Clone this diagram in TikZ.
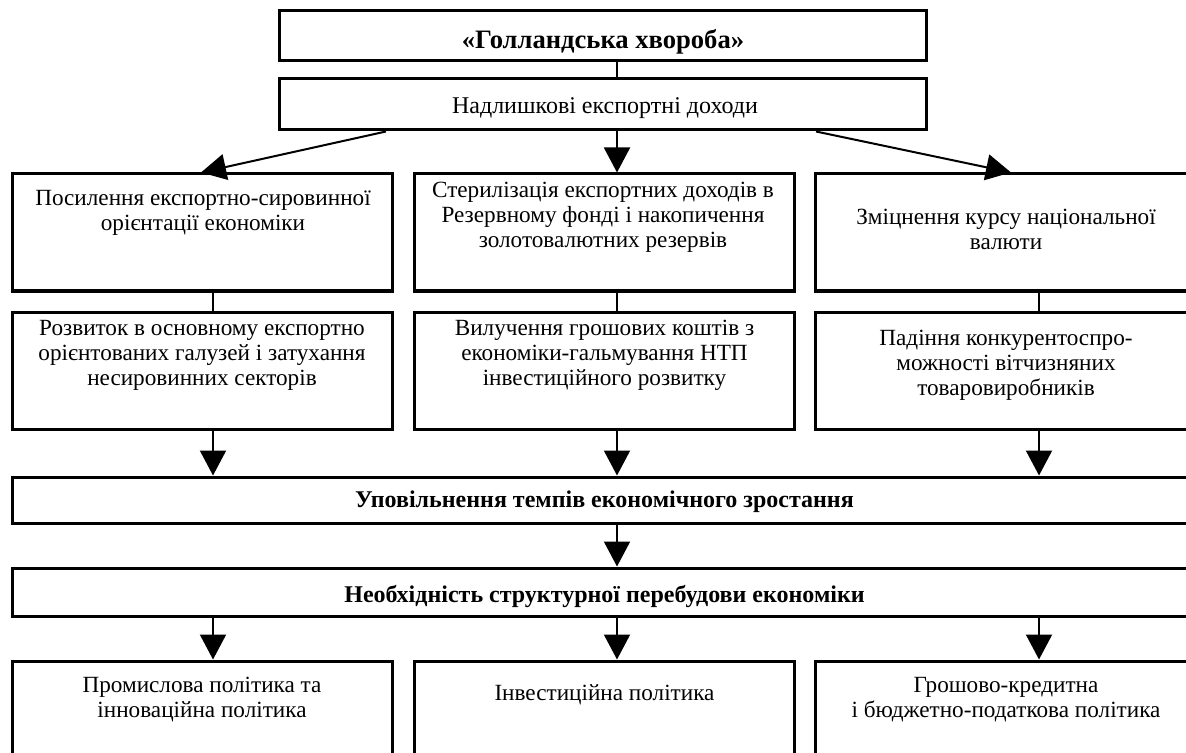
\documentclass[tikz,border=0pt]{standalone}
\usepackage{fontspec}
\setmainfont{Liberation Serif}
\usetikzlibrary{positioning, arrows.meta}

\tikzset{
	box/.style={draw, line width=1.5pt, rectangle, inner sep=0pt},
	txt/.style={align=center, inner sep=0pt, font=\fontsize{11.6}{12.5}\selectfont},
	btxt/.style={align=center, inner sep=0pt, font=\fontsize{12}{13}\selectfont\bfseries},
	link/.style={line width=1pt},
	arr/.style={line width=1pt, -{Triangle[width=13pt,length=12.5pt]}}
}

\begin{document}
\begin{tikzpicture}[x=0.5pt, y=-0.5pt]
	\clip (0,0) rectangle (1186,753);
	\pgfmathsetmacro{\colw}{190}
	\pgfmathsetmacro{\rowh}{58.5}
	\coordinate (colA) at (213,0);
	\coordinate (colB) at (617,0);
	\coordinate (colC) at (1039,0);
	
	%% top
	\node[box, minimum width=323.5pt, minimum height=25pt] (dis) at (602.5,36) {};
	\node[btxt, font=\fontsize{13.3}{14}\selectfont\bfseries] (distxt) at (603,42) {«Голландська хвороба»};
	\node[box, minimum width=323.5pt, minimum height=25.5pt] (inc) at (602.5,104.5) {};
	\node[txt, font=\fontsize{12}{13}\selectfont] (inctxt) at (605,108) {Надлишкові експортні доходи};
	
	%% first row
	\node[box, minimum width=\colw pt, minimum height=\rowh pt] (raw) at (202,232.5) {};
	\node[txt] (rawtxt) at (203,213) {Посилення експортно-сировинної\\орієнтації економіки};
	\node[box, minimum width=\colw pt, minimum height=\rowh pt] (ster) at (604.5,232.5) {};
	\node[txt] (stertxt) at (603,217) {Стерилізація експортних доходів в\\Резервному фонді і накопичення\\золотовалютних резервів};
	\node[box, minimum width=191pt, minimum height=\rowh pt] (cur) at (1006,232.5) {};
	\node[txt] (curtxt) at (1006,229) {Зміцнення курсу національної\\валюти};
	
	%% second row
	\node[box, minimum width=\colw pt, minimum height=\rowh pt] (grow) at (202,370.5) {};
	\node[txt] (growtxt) at (202,355) {Розвиток в основному експортно\\орієнтованих галузей і затухання\\несировинних секторів};
	\node[box, minimum width=\colw pt, minimum height=\rowh pt] (wd) at (604.5,370.5) {};
	\node[txt] (wdtxt) at (604.5,355) {Вилучення грошових коштів з\\економіки-гальмування НТП\\інвестиційного розвитку};
	\node[box, minimum width=191pt, minimum height=\rowh pt] (comp) at (1006,370.5) {};
	\node[txt] (comptxt) at (1006,365) {Падіння конкурентоспро-\\можності вітчизняних\\товаровиробників};
	
	%% wide boxes
	\node[box, minimum width=592.5pt, minimum height=23pt] (slow) at (604.5,500) {};
	\node[btxt] (slowtxt) at (604.5,502) {Уповільнення темпів економічного зростання};
	\node[box, minimum width=592.5pt, minimum height=24pt] (need) at (604.5,592) {};
	\node[btxt] (needtxt) at (604.5,596) {Необхідність структурної перебудови економіки};
	
	%% bottom row
	\node[box, minimum width=\colw pt, minimum height=64pt] (ind) at (202,725) {};
	\node[txt] (indtxt) at (202,699.5) {Промислова політика та\\інноваційна політика};
	\node[box, minimum width=\colw pt, minimum height=64pt] (inv) at (604.5,725) {};
	\node[txt] (invtxt) at (604.5,695) {Інвестиційна політика};
	\node[box, minimum width=191pt, minimum height=64pt] (fis) at (1006,725) {};
	\node[txt] (fistxt) at (1006,699.5) {Грошово-кредитна\\і бюджетно-податкова політика};
	
	%% connectors
	\draw[link] (dis.south -| colB) -- (inc.north -| colB);
	\draw[arr] ([xshift=-108.25pt]inc.south) -- ([xshift=-0.5pt]raw.north);
	\draw[arr] (inc.south -| colB) -- (ster.north -| colB);
	\draw[arr] ([xshift=106.75pt]inc.south) -- ([xshift=2.5pt]cur.north);
	
	\draw[link] (raw.south -| colA) -- (grow.north -| colA);
	\draw[link] (ster.south -| colB) -- (wd.north -| colB);
	\draw[link] (cur.south -| colC) -- (comp.north -| colC);
	
	\draw[arr] (grow.south -| colA) -- (slow.north -| colA);
	\draw[arr] (wd.south -| colB) -- (slow.north -| colB);
	\draw[arr] (comp.south -| colC) -- (slow.north -| colC);
	
	\draw[arr] (slow.south -| colB) -- (need.north -| colB);
	
	\draw[arr] (need.south -| colA) -- (ind.north -| colA);
	\draw[arr] (need.south -| colB) -- (inv.north -| colB);
	\draw[arr] (need.south -| colC) -- (fis.north -| colC);
\end{tikzpicture}
\end{document}
